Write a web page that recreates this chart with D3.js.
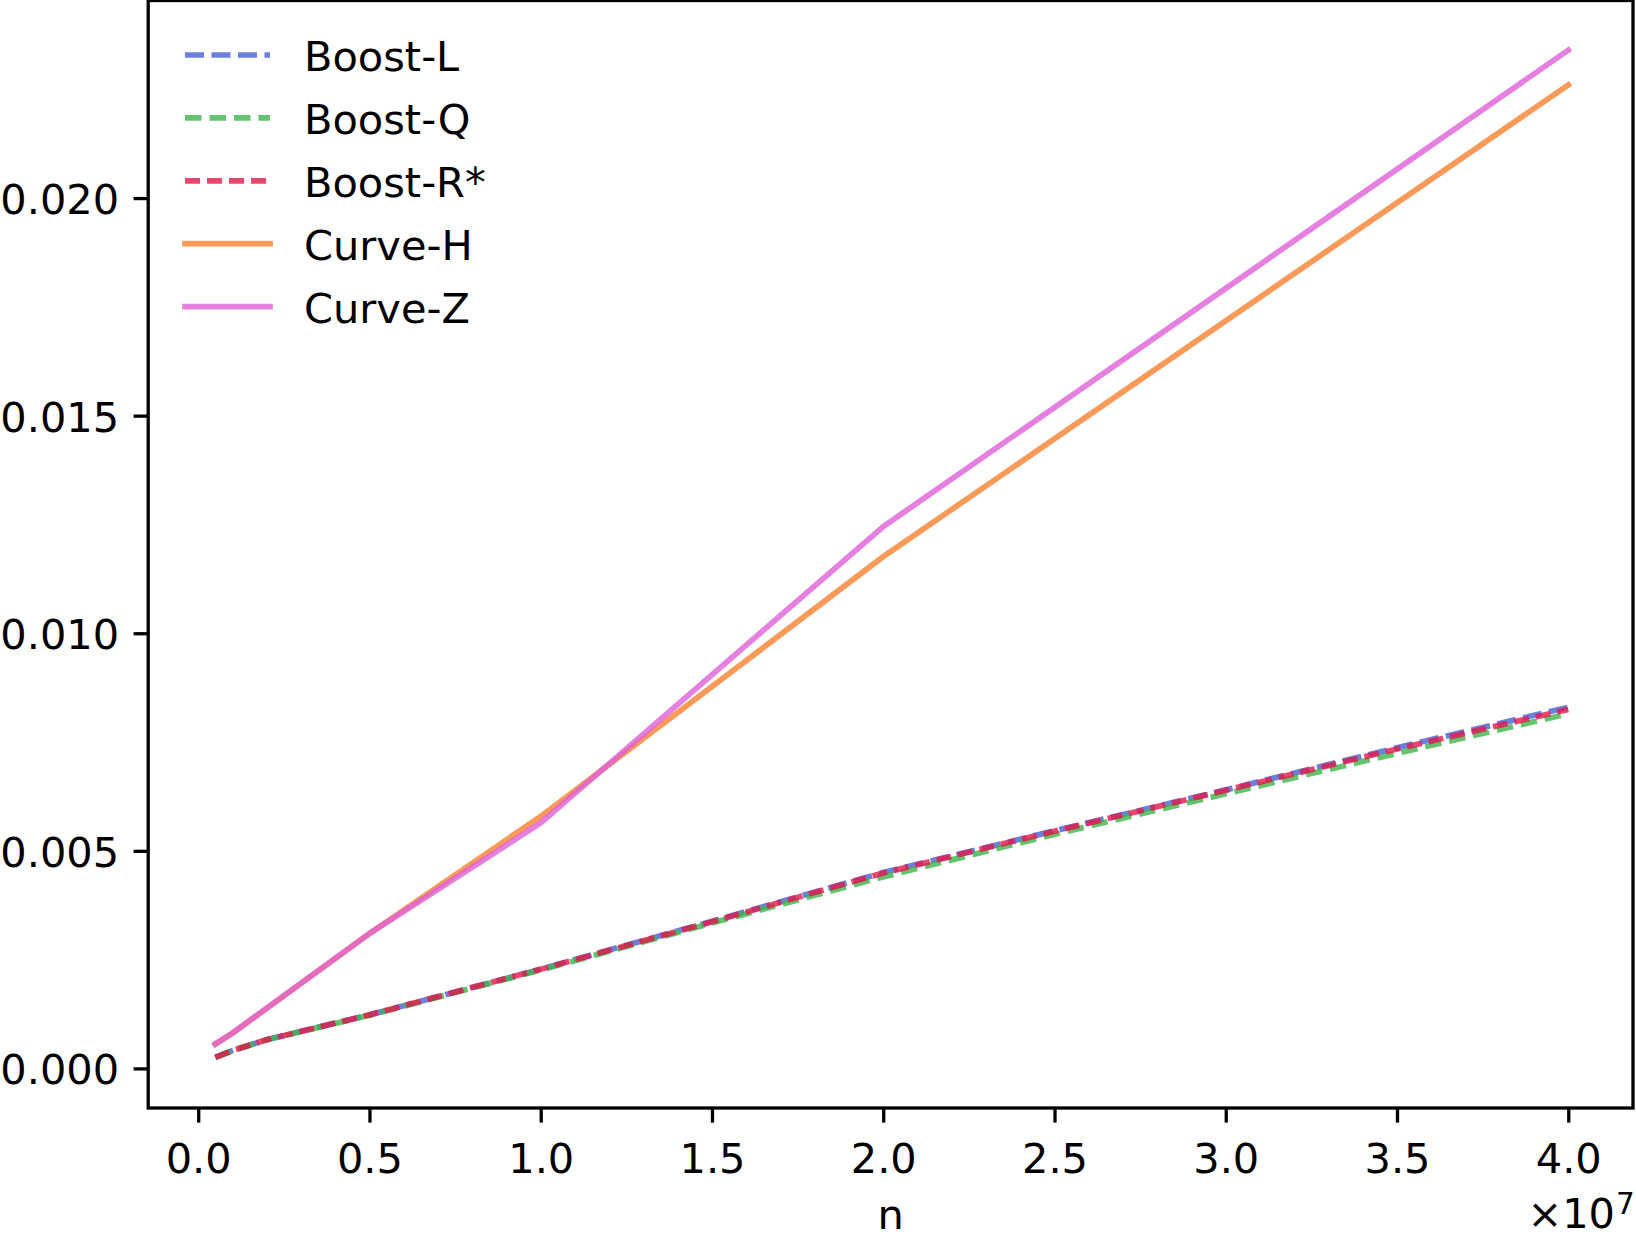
<!DOCTYPE html>
<html>
<head>
<meta charset="utf-8">
<script src="https://cdn.jsdelivr.net/npm/d3@7"></script>
<style>
  html, body { margin: 0; padding: 0; background: #fff; }
  svg { display: block; font-family: "DejaVu Sans", sans-serif; }
</style>
</head>
<body>
<svg id="chart" width="1636" height="1238"></svg>
<script>
'use strict';

// values
const curveX = [5e5, 1e6, 5e6, 1e7, 2e7, 4e7];
const curveH = [0.00056, 0.00081, 0.00310, 0.00579, 0.01176, 0.02260];
const curveZ = [0.00056, 0.00081, 0.00310, 0.00564, 0.01245, 0.02340];

const boostX = [5e5, 1e6, 2e6, 5e6, 1e7, 1.5e7, 2e7, 2.5e7, 3e7, 3.5e7, 4e7];
const boostL = [0.000255, 0.00041, 0.00066, 0.00123, 0.00228, 0.00338, 0.00450, 0.00546, 0.00640, 0.00737, 0.00830];
const boostQ = [0.000255, 0.00041, 0.00066, 0.00122, 0.00226, 0.00334, 0.00440, 0.00538, 0.00631, 0.00724, 0.00815];
const boostR = [0.000255, 0.00041, 0.00066, 0.00123, 0.00228, 0.00337, 0.00449, 0.00545, 0.00639, 0.00734, 0.00825];

const xTicks = [0, 0.5e7, 1e7, 1.5e7, 2e7, 2.5e7, 3e7, 3.5e7, 4e7];
const yTicks = [0, 0.005, 0.010, 0.015, 0.020];

const series = [
    { name: 'Boost-L', xs: boostX, ys: boostL, colour: '#4660d3', dash: '19,7.5' },
    { name: 'Boost-Q', xs: boostX, ys: boostQ, colour: '#3db54a', dash: '16.5,8' },
    { name: 'Boost-R*', xs: boostX, ys: boostR, colour: '#e2184a', dash: '15,7' },
    { name: 'Curve-H', xs: curveX, ys: curveH, colour: '#f9812e', dash: null },
    { name: 'Curve-Z', xs: curveX, ys: curveZ, colour: '#df60d8', dash: null }
];

const box = { left: 148.2, right: 1633, top: 0.5, bottom: 1108 };
const fontSize = 41.5;
const tickLen = 14.6;
const spineW = 3.3;
const lineW = 5.7;

const svg = d3.select('#chart');

const x = d3.scaleLinear().domain([-0.146e7, 4.189e7]).range([box.left, box.right]);
const y = d3.scaleLinear().domain([-0.00091, 0.02454]).range([box.bottom, box.top]);

const line = d3.line().x(d => x(d[0])).y(d => y(d[1]));

const plot = svg.append('g');
series.forEach(s => {
    const pts = s.xs.map((v, i) => [v, s.ys[i]]);
    plot.append('path')
        .attr('d', line(pts))
        .attr('fill', 'none')
        .attr('stroke', s.colour)
        .attr('stroke-opacity', 0.8)
        .attr('stroke-width', lineW)
        .attr('stroke-linecap', s.dash ? 'butt' : 'square')
        .attr('stroke-linejoin', 'round')
        .attr('stroke-dasharray', s.dash);
});

// axes
const xAxis = svg.append('g')
    .attr('transform', `translate(0,${box.bottom})`)
    .call(d3.axisBottom(x).tickValues(xTicks)
        .tickFormat(d => (d / 1e7).toFixed(1))
        .tickSize(tickLen).tickSizeOuter(0).tickPadding(20.5));
const yAxis = svg.append('g')
    .attr('transform', `translate(${box.left},0)`)
    .call(d3.axisLeft(y).tickValues(yTicks)
        .tickFormat(d => d.toFixed(3))
        .tickSize(tickLen).tickSizeOuter(0).tickPadding(14.5));

[xAxis, yAxis].forEach(a => {
    a.select('.domain').remove();
    a.selectAll('line').attr('stroke', '#000').attr('stroke-width', spineW);
    a.selectAll('text')
        .attr('fill', '#000')
        .style('font-family', '"DejaVu Sans", sans-serif')
        .style('font-size', fontSize + 'px');
});
yAxis.selectAll('text').attr('dy', '0.37em');

svg.append('rect')
    .attr('x', box.left).attr('y', box.top)
    .attr('width', box.right - box.left).attr('height', box.bottom - box.top)
    .attr('fill', 'none').attr('stroke', '#000').attr('stroke-width', spineW);

// axis label and offset text
svg.append('text')
    .attr('x', (box.left + box.right) / 2).attr('y', 1229)
    .attr('text-anchor', 'middle')
    .style('font-size', fontSize + 'px')
    .text('n');

svg.append('text')
    .attr('x', 1615).attr('y', 1228)
    .attr('text-anchor', 'end')
    .style('font-size', fontSize + 'px')
    .text('×10');
svg.append('text')
    .attr('x', 1616).attr('y', 1214)
    .style('font-size', '29.5px')
    .text('7');

// legend
const legend = svg.append('g');
series.forEach((s, i) => {
    const rowY = 55 + i * 62.9;
    legend.append('line')
        .attr('x1', 185).attr('x2', 270)
        .attr('y1', rowY).attr('y2', rowY)
        .attr('stroke', s.colour)
        .attr('stroke-opacity', 0.8)
        .attr('stroke-width', lineW)
        .attr('stroke-linecap', s.dash ? 'butt' : 'square')
        .attr('stroke-dasharray', s.dash);
    legend.append('text')
        .attr('x', 304).attr('y', rowY + 16)
        .style('font-size', fontSize + 'px')
        .text(s.name);
});
</script>
</body>
</html>
